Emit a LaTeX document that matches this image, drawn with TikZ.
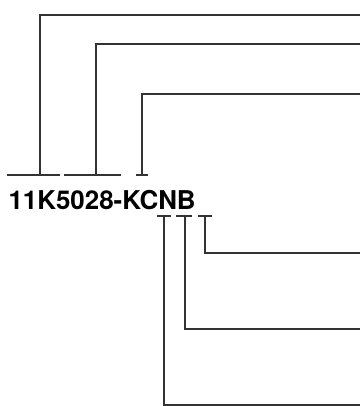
\documentclass[tikz,border=0pt]{standalone}
\usepackage{fontspec}
\setsansfont{TeX Gyre Heros}
\begin{document}
\begin{tikzpicture}[x=1bp,y=-1bp,line width=1.1bp]
    \tikzset{lead/.style={draw=black!80}}
    \useasboundingbox (0,0) rectangle (360,406);
    \node[anchor=base west,inner sep=0,font=\sffamily\bfseries\fontsize{26}{30}\selectfont] (code) at (8,209) {11K5028-KCNB};
    % brackets above the code
    \coordinate (u1) at (40,175);
    \coordinate (u2) at (96,175);
    \coordinate (u3) at (142,175);
    \draw[lead] (7,175) -- (60,175);
    \draw[lead] (64,175) -- (121,175);
    \draw[lead] (136,175) -- (148,175);
    \draw[lead] (u1) -- (40,15) -- (360,15);
    \draw[lead] (u2) -- (96,44) -- (360,44);
    \draw[lead] (u3) -- (142,94) -- (360,94);
    % brackets below the code
    \coordinate (d1) at (164,216);
    \coordinate (d2) at (185,216);
    \coordinate (d3) at (205,216);
    \draw[lead] (157,216) -- (171,216);
    \draw[lead] (176,216) -- (192,216);
    \draw[lead] (198,216) -- (212,216);
    \draw[lead] (d3) -- (205,253) -- (360,253);
    \draw[lead] (d2) -- (185,329) -- (360,329);
    \draw[lead] (d1) -- (164,405) -- (360,405);
\end{tikzpicture}
\end{document}
